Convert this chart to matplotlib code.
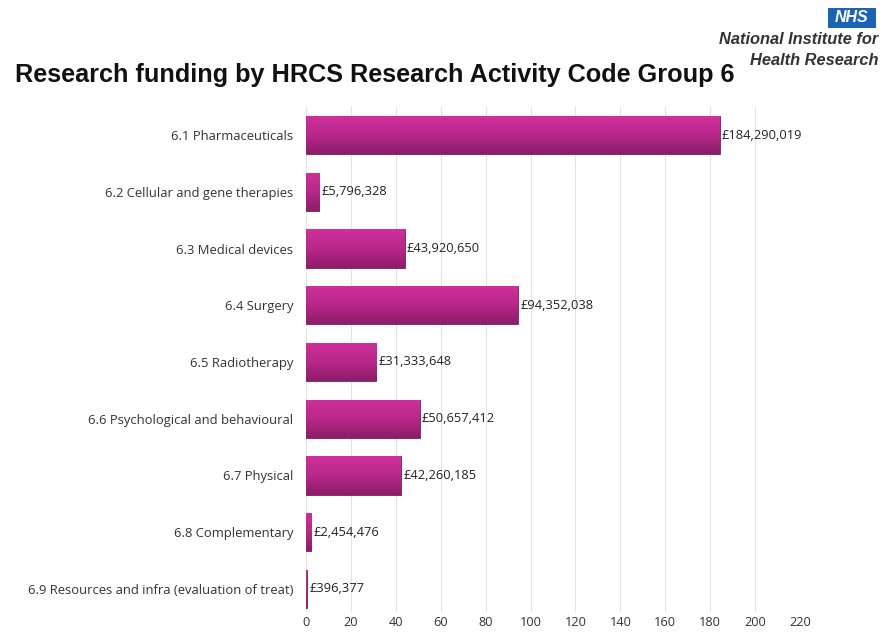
import matplotlib.pyplot as plt
import numpy as np
from matplotlib.patches import FancyBboxPatch

# Data (funding in GBP)
categories = [
    "6.1 Pharmaceuticals",
    "6.2 Cellular and gene therapies",
    "6.3 Medical devices",
    "6.4 Surgery",
    "6.5 Radiotherapy",
    "6.6 Psychological and behavioural",
    "6.7 Physical",
    "6.8 Complementary",
    "6.9 Resources and infra (evaluation of treat)",
]
funding = [184290019, 5796328, 43920650, 94352038, 31333648,
           50657412, 42260185, 2454476, 396377]
xticks = [0, 20, 40, 60, 80, 100, 120, 140, 160, 180, 200, 220]

plt.rcParams["font.family"] = ["Open Sans", "DejaVu Sans"]

fig = plt.figure(figsize=(8.81, 6.34), dpi=100)
ax = fig.add_axes([0.3473, 0.0352, 0.908 - 0.3473, 0.7966])

values_m = np.array(funding) / 1e6
y = np.arange(len(categories))

bars = ax.barh(y, values_m, height=0.67, color="#b0257f", edgecolor="#7e1a5b",
               linewidth=0.6, zorder=2)

# vertical gradient over each bar
grad = np.linspace(0, 1, 64).reshape(-1, 1)
cmap = plt.matplotlib.colors.LinearSegmentedColormap.from_list(
    "bar", ["#d0309a", "#b8288a", "#8c1d68"])
for bar in bars:
    x0, y0 = bar.get_x(), bar.get_y()
    w, h = bar.get_width(), bar.get_height()
    im = ax.imshow(grad, extent=[x0, x0 + w, y0 + h, y0], cmap=cmap,
                   aspect="auto", zorder=2.5, origin="upper")
    im.set_clip_path(bar)

for yi, v, f in zip(y, values_m, funding):
    ax.text(v + 1.0, yi, f"£{f:,}", va="center", ha="left", fontsize=9.3,
            color="#222222", zorder=3)

ax.set_yticks(y)
ax.set_yticklabels(categories, fontsize=9.4, color="#333333")
ax.set_xticks(xticks)
ax.set_xticklabels([str(t) for t in xticks], fontsize=9.2, color="#333333")
ax.set_xlim(0, 220)
ax.set_ylim(8.4, -0.5)
ax.tick_params(axis="y", length=0, pad=9)
ax.tick_params(axis="x", length=0, pad=3)
ax.grid(axis="x", color="#e3e3e3", linewidth=0.8, zorder=0)
ax.set_axisbelow(True)
for s in ax.spines.values():
    s.set_visible(False)

fig.text(0.017, 0.882, "Research funding by HRCS Research Activity Code Group 6",
         fontsize=18.2, fontweight="bold", family="Liberation Sans", color="#111111",
         va="center", ha="left")

# NHS logo block
fig.patches.append(FancyBboxPatch((0.940, 0.956), 0.054, 0.032,
                                  boxstyle="square,pad=0", transform=fig.transFigure,
                                  facecolor="#1a64b8", edgecolor="none"))
fig.text(0.967, 0.972, "NHS", fontsize=11.5, fontweight="bold", style="italic",
         family="Liberation Sans", color="white", ha="center", va="center")
fig.text(0.997, 0.937, "National Institute for", fontsize=11.8, fontweight="bold",
         style="italic", family="Liberation Sans", color="#333333", ha="right", va="center")
fig.text(0.997, 0.905, "Health Research", fontsize=11.8, fontweight="bold",
         style="italic", family="Liberation Sans", color="#333333", ha="right", va="center")

fig.savefig("out.png", dpi=100)
